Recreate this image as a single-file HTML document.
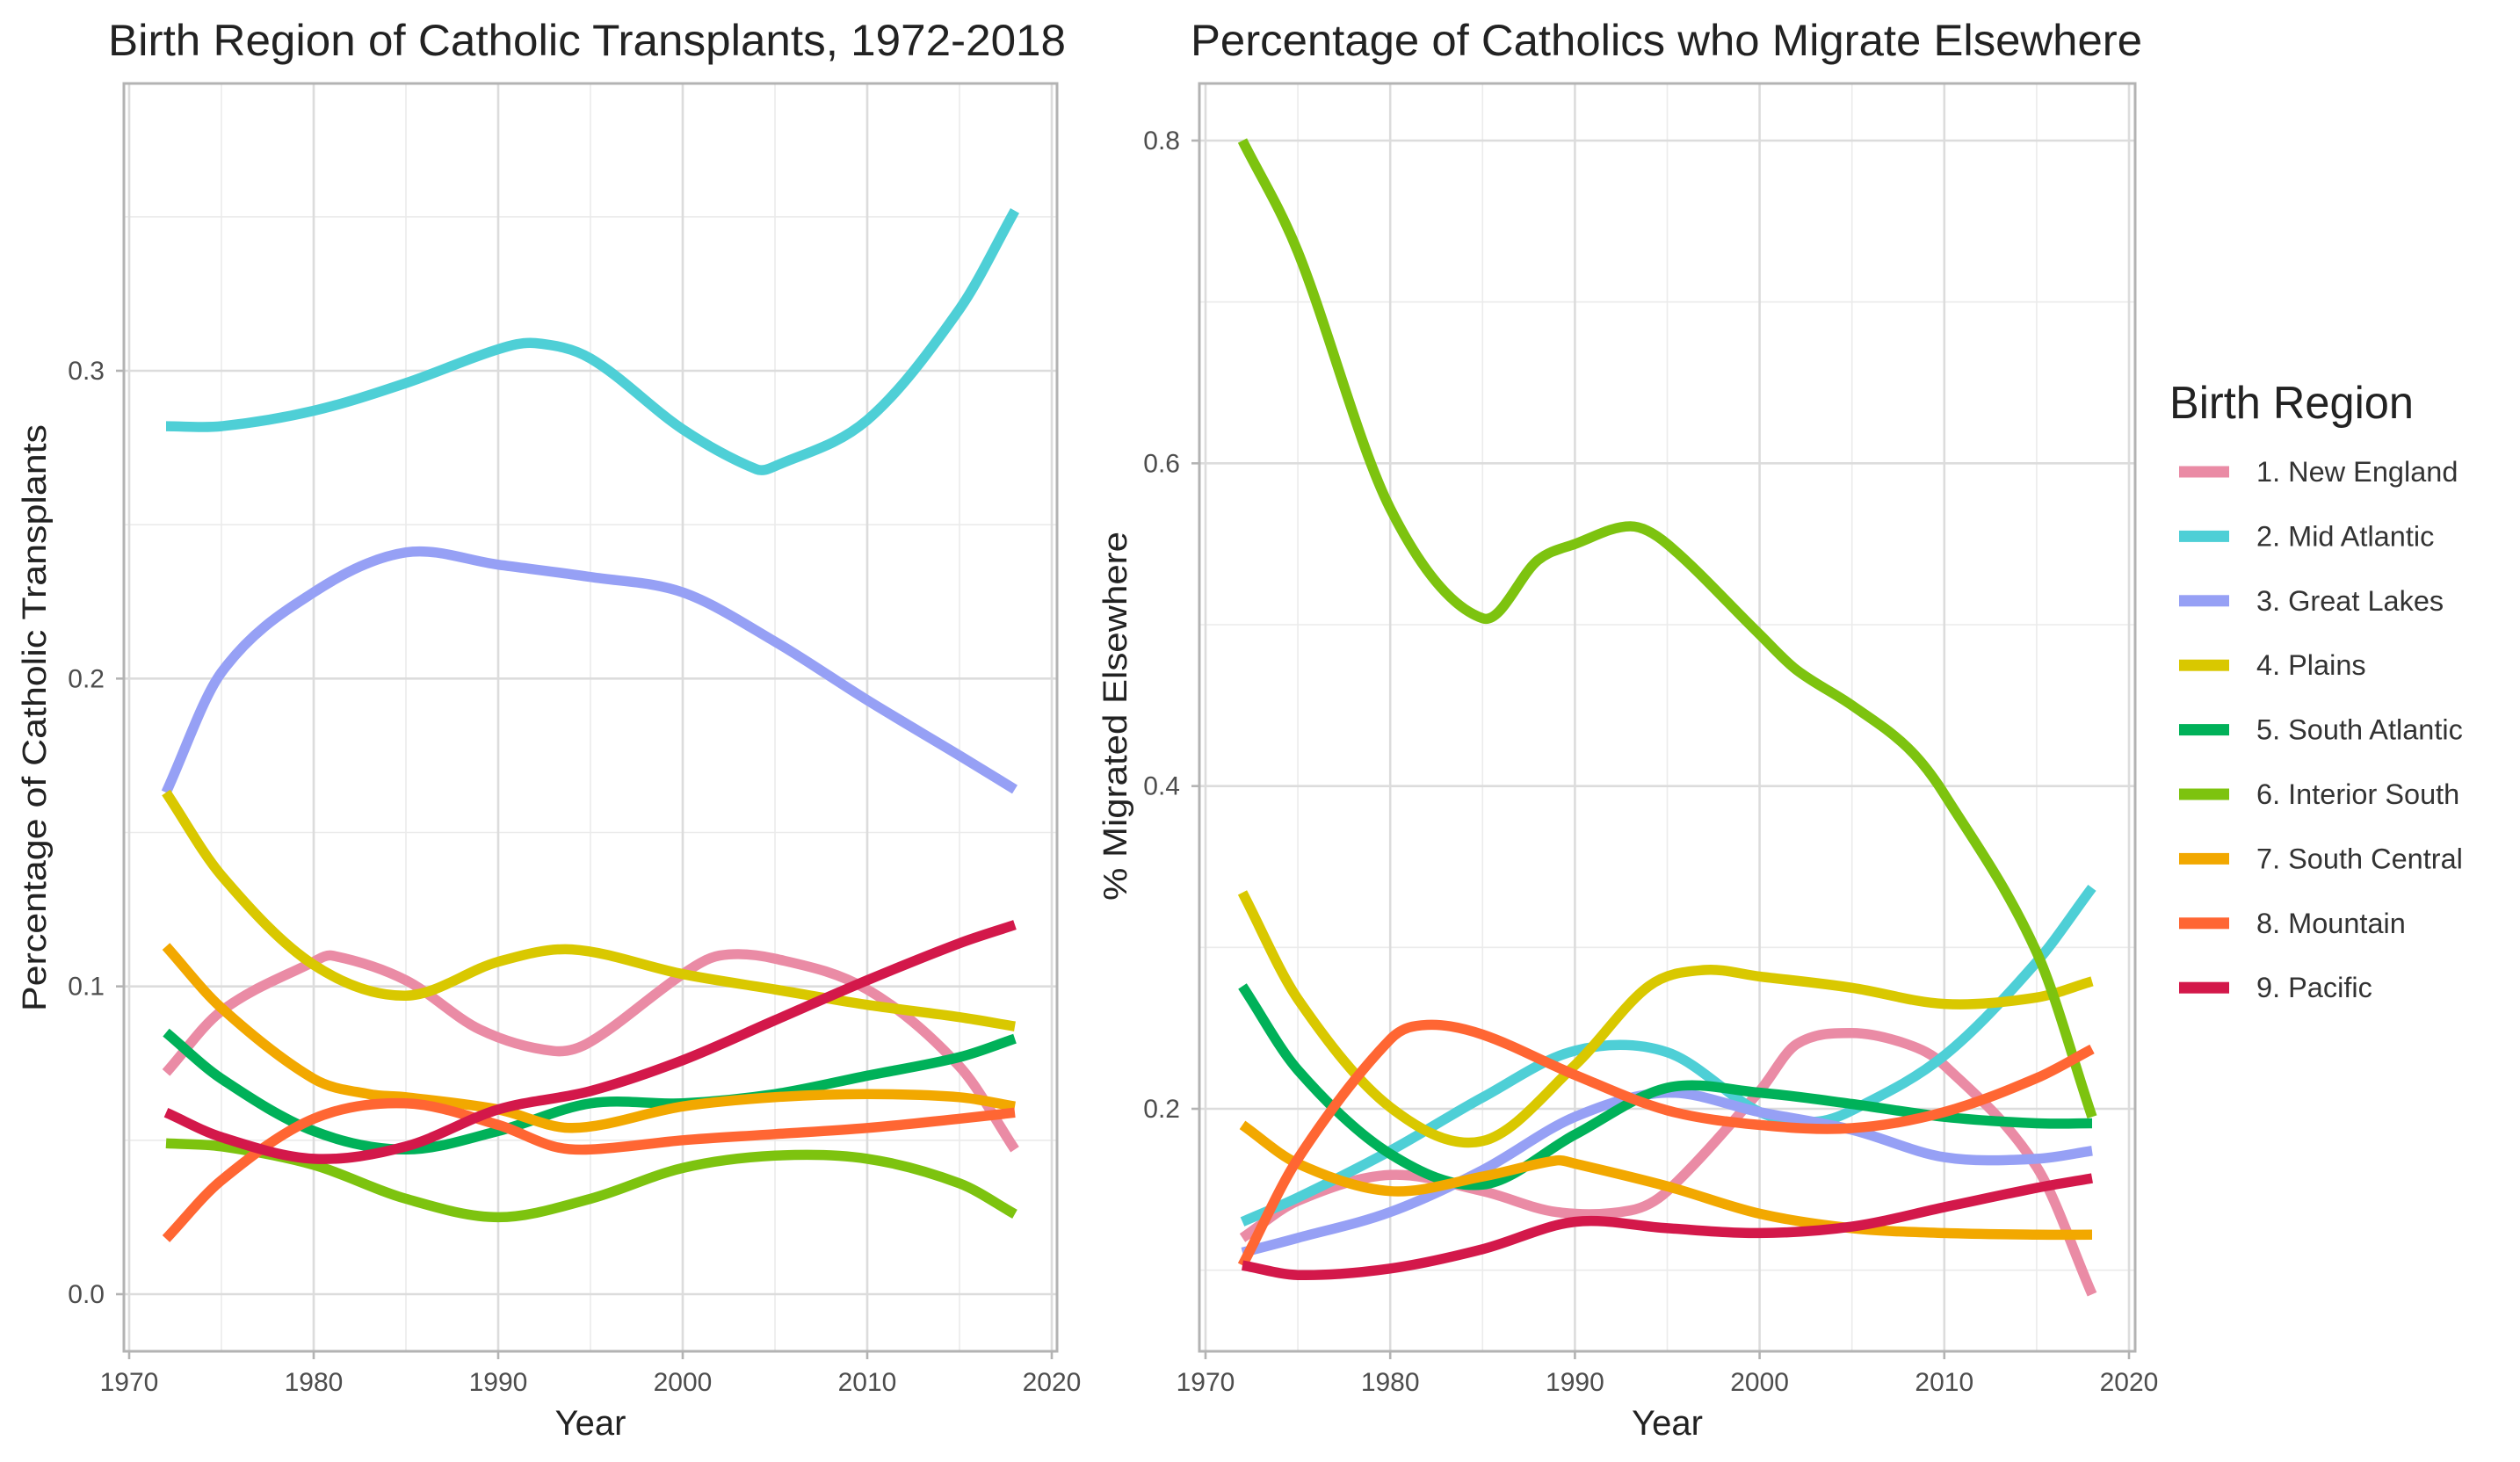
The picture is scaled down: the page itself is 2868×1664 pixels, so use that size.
<!DOCTYPE html>
<html><head><meta charset="utf-8">
<style>
html,body{margin:0;padding:0;background:#fff;}
svg{display:block;font-family:"Liberation Sans",sans-serif;}
</style></head>
<body>
<svg id="chart" width="2868" height="1664" viewBox="0 0 2868 1664" xmlns="http://www.w3.org/2000/svg">
<rect width="2868" height="1664" fill="#fff"/>
</svg>
<script>
const regionNames = ["1. New England","2. Mid Atlantic","3. Great Lakes","4. Plains","5. South Atlantic","6. Interior South","7. South Central","8. Mountain","9. Pacific"];
const regionColors = ["#EA8BA5","#4ECFD6","#96A0F5","#D9C800","#00B159","#7DC30F","#F2A800","#FF6633","#D3184A"];
const xTicks = [1970,1980,1990,2000,2010,2020];
const leftYTicks = [0.0,0.1,0.2,0.3];
const rightYTicks = [0.2,0.4,0.6,0.8];

// Left panel: share of Catholic transplants
const leftYears = [
 [1972,1975,1980,1981,1985,1989,1993,1995,2000,2002,2005,2010,2015,2018],
 [1972,1975,1980,1985,1990,1992,1995,2000,2004,2005,2010,2015,2018],
 [1972,1975,1980,1985,1990,1995,2000,2005,2010,2015,2018],
 [1972,1975,1980,1985,1990,1994,2000,2005,2010,2015,2018],
 [1972,1975,1980,1985,1990,1995,2000,2005,2010,2015,2018],
 [1972,1975,1980,1985,1990,1995,2000,2005,2010,2015,2018],
 [1972,1975,1980,1983,1985,1990,1994,2000,2005,2010,2015,2018],
 [1972,1975,1980,1985,1990,1993,1995,2000,2005,2010,2015,2018],
 [1972,1975,1980,1985,1990,1995,2000,2005,2010,2015,2018]
];
const leftValues = [
 [0.072,0.092,0.108,0.110,0.102,0.086,0.079,0.082,0.104,0.110,0.109,0.099,0.074,0.047],
 [0.282,0.282,0.287,0.296,0.307,0.309,0.304,0.281,0.268,0.269,0.284,0.320,0.352],
 [0.163,0.202,0.228,0.241,0.237,0.233,0.228,0.212,0.193,0.175,0.164],
 [0.163,0.136,0.107,0.097,0.108,0.112,0.104,0.099,0.094,0.090,0.087],
 [0.085,0.070,0.053,0.047,0.053,0.062,0.062,0.065,0.071,0.077,0.083],
 [0.049,0.048,0.042,0.031,0.025,0.031,0.041,0.045,0.044,0.036,0.026],
 [0.113,0.093,0.070,0.065,0.064,0.060,0.054,0.061,0.064,0.065,0.064,0.061],
 [0.018,0.037,0.057,0.062,0.055,0.048,0.047,0.050,0.052,0.054,0.057,0.059],
 [0.059,0.051,0.044,0.048,0.060,0.066,0.076,0.089,0.102,0.114,0.120]
];

// Right panel: % migrated elsewhere
const rightYears = [
 [1972,1975,1980,1985,1989,1993,1995,2000,2002,2005,2008,2010,2015,2018],
 [1972,1975,1980,1985,1990,1995,2000,2003,2005,2010,2015,2018],
 [1972,1975,1980,1985,1990,1995,2000,2005,2010,2015,2018],
 [1972,1975,1980,1985,1990,1994,1997,2000,2005,2010,2015,2018],
 [1972,1975,1980,1985,1990,1995,2000,2005,2010,2015,2018],
 [1972,1975,1980,1985,1988,1990,1993,1995,2000,2002,2005,2008,2010,2015,2018],
 [1972,1975,1980,1985,1989,1990,1995,2000,2005,2010,2015,2018],
 [1972,1975,1980,1982,1985,1990,1995,2000,2005,2010,2015,2018],
 [1972,1975,1980,1985,1990,1995,2000,2005,2010,2015,2018]
];
const rightValues = [
 [0.120,0.143,0.159,0.149,0.136,0.137,0.149,0.211,0.240,0.247,0.240,0.227,0.164,0.085],
 [0.130,0.145,0.174,0.207,0.236,0.235,0.198,0.192,0.199,0.233,0.291,0.337],
 [0.111,0.120,0.136,0.162,0.195,0.210,0.198,0.187,0.170,0.169,0.174],
 [0.334,0.268,0.201,0.180,0.227,0.276,0.286,0.282,0.275,0.265,0.269,0.279],
 [0.276,0.224,0.172,0.153,0.184,0.213,0.210,0.203,0.195,0.191,0.191],
 [0.800,0.731,0.572,0.504,0.540,0.550,0.561,0.550,0.494,0.472,0.450,0.424,0.395,0.297,0.195],
 [0.190,0.166,0.149,0.158,0.168,0.166,0.152,0.135,0.126,0.123,0.122,0.122],
 [0.103,0.169,0.243,0.252,0.246,0.221,0.199,0.190,0.188,0.198,0.219,0.237],
 [0.103,0.097,0.101,0.113,0.130,0.126,0.123,0.127,0.139,0.151,0.157]
];

const NS = "http://www.w3.org/2000/svg";
const svg = document.getElementById("chart");
function el(tag, attrs, parent){
  const e = document.createElementNS(NS, tag);
  for (const k in attrs) e.setAttribute(k, attrs[k]);
  (parent||svg).appendChild(e);
  return e;
}
// Hermite spline in x (handles uneven spacing without kinks)
function smoothPath(pts){
  const n = pts.length;
  const m = pts.map((p,i)=>{
    const a = pts[Math.max(0,i-1)], b = pts[Math.min(n-1,i+1)];
    return (b[1]-a[1])/(b[0]-a[0]);
  });
  let d = "M"+pts[0][0].toFixed(1)+","+pts[0][1].toFixed(1);
  for (let i=0;i<n-1;i++){
    const p1=pts[i], p2=pts[i+1], dx=(p2[0]-p1[0])/3;
    d += " C"+(p1[0]+dx).toFixed(1)+","+(p1[1]+m[i]*dx).toFixed(1)+" "+(p2[0]-dx).toFixed(1)+","+(p2[1]-m[i+1]*dx).toFixed(1)+" "+p2[0].toFixed(1)+","+p2[1].toFixed(1);
  }
  return d;
}

function drawPanel(cfg){
  const g = el("g", {});
  
  
  const xs = v => cfg.x0 + (v-1970)*(cfg.x1-cfg.x0)/50;
  const ys = v => cfg.yA + (v-cfg.vA)*(cfg.yB-cfg.yA)/(cfg.vB-cfg.vA);
  for (let yr=1975; yr<=2015; yr+=10){
    const l = el("line",{x1:xs(yr),x2:xs(yr),y1:cfg.top,y2:cfg.bottom,stroke:"#ebebeb","stroke-width":1.6},g);
    
    
  }
  cfg.minorY.forEach(v=>{
    const l = el("line",{x1:cfg.left,x2:cfg.right,y1:ys(v),y2:ys(v),stroke:"#ebebeb","stroke-width":1.6},g);
    
    
  });
  xTicks.forEach(t=>{
    const l = el("line",{x1:xs(t),x2:xs(t),y1:cfg.top,y2:cfg.bottom,stroke:"#dcdcdc","stroke-width":2.6},g);
    
    
    const tk = el("line",{x1:xs(t),x2:xs(t),y1:cfg.bottom,y2:cfg.bottom+9,stroke:"#b3b3b3","stroke-width":2.6},g);
    
    
    const tx = el("text",{x:xs(t),y:1583,"text-anchor":"middle","font-size":30,fill:"#4d4d4d"},g);
    tx.textContent = t;
    
    
  });
  cfg.yTicks.forEach(t=>{
    const l = el("line",{x1:cfg.left,x2:cfg.right,y1:ys(t),y2:ys(t),stroke:"#dcdcdc","stroke-width":2.6},g);
    
    
    const tk = el("line",{x1:cfg.left-9,x2:cfg.left,y1:ys(t),y2:ys(t),stroke:"#b3b3b3","stroke-width":2.6},g);
    
    
    const tx = el("text",{x:cfg.left-22,y:ys(t)+10,"text-anchor":"end","font-size":30,fill:"#4d4d4d"},g);
    tx.textContent = t.toFixed(1);
    
    
  });
  const cp = el("clipPath",{id:cfg.name+"-clip"},g);
  el("rect",{x:cfg.left,y:cfg.top,width:cfg.right-cfg.left,height:cfg.bottom-cfg.top},cp);
  const lg = el("g",{"clip-path":"url(#"+cfg.name+"-clip)"},g);
  cfg.years.forEach((yrs,i)=>{
    const pts = yrs.map((yr,j)=>[xs(yr), ys(cfg.values[i][j])]);
    const p = el("path",{d:smoothPath(pts),fill:"none",stroke:regionColors[i],"stroke-width":11.5,"stroke-linejoin":"round"},lg);
    
    
  });
  const b = el("rect",{x:cfg.left,y:cfg.top,width:cfg.right-cfg.left,height:cfg.bottom-cfg.top,fill:"none",stroke:"#b3b3b3","stroke-width":3},g);
  
  
  const tt = el("text",{x:cfg.titleX,y:63,"font-size":50,fill:"#222",textLength:cfg.titleW,lengthAdjust:"spacingAndGlyphs"},g);
  tt.textContent = cfg.title;
  
  
  const xt = el("text",{x:(cfg.left+cfg.right)/2,y:1633,"text-anchor":"middle","font-size":40,fill:"#222"},g);
  xt.textContent = "Year";
  
  
  const yt = el("text",{x:0,y:0,"text-anchor":"middle","font-size":38,fill:"#222",textLength:cfg.yTitleW,lengthAdjust:"spacingAndGlyphs",transform:"translate("+cfg.yTitleX+","+cfg.yTitleY+") rotate(-90)"},g);
  yt.textContent = cfg.yTitle;
  
  
}

drawPanel({name:"left-panel",left:141,right:1203,top:95,bottom:1538,x0:147,x1:1197,
  yA:1473,vA:0,yB:422,vB:0.3,yTicks:leftYTicks,minorY:[0.05,0.15,0.25,0.35],
  years:leftYears,values:leftValues,title:"Birth Region of Catholic Transplants, 1972-2018",
  titleX:123,titleW:1090,yTitle:"Percentage of Catholic Transplants",yTitleX:52,yTitleY:817,yTitleW:668});
drawPanel({name:"right-panel",left:1365,right:2430,top:95,bottom:1538,x0:1372,x1:2423,
  yA:1262,vA:0.2,yB:160,vB:0.8,yTicks:rightYTicks,minorY:[0.1,0.3,0.5,0.7],
  years:rightYears,values:rightValues,title:"Percentage of Catholics who Migrate Elsewhere",
  titleX:1355,titleW:1083,yTitle:"% Migrated Elsewhere",yTitleX:1282,yTitleY:815,yTitleW:420});

const lgd = el("g",{});


const lt = el("text",{x:2469,y:476,"font-size":52,fill:"#222",textLength:278,lengthAdjust:"spacingAndGlyphs"},lgd);
lt.textContent = "Birth Region";


regionNames.forEach((n,i)=>{
  const cy = 537 + i*73.4;
  const entry = el("g",{},lgd);
  
  
  el("rect",{x:2480,y:cy-6.5,width:57,height:13,fill:regionColors[i]},entry);
  const t = el("text",{x:2568,y:cy+11,"font-size":32.5,fill:"#333"},entry);
  t.textContent = n;
});
</script>
</body></html>
